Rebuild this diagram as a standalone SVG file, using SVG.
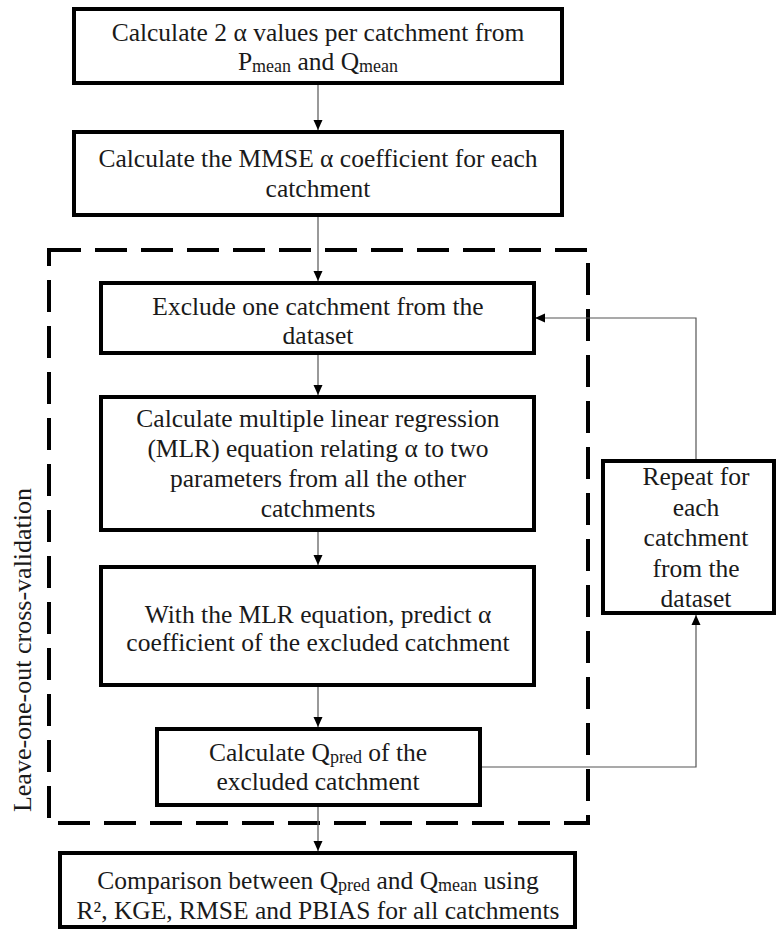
<svg xmlns="http://www.w3.org/2000/svg" width="778" height="931" viewBox="0 0 778 931">
<style>
.box{fill:#fff;stroke:#000;stroke-width:4}
.t{font-family:"Liberation Serif","Times New Roman",serif;font-size:25.5px;fill:#1a1a1a;text-anchor:middle}
.s{font-size:18px}
.c{fill:none;stroke:#555;stroke-width:1.2}
.dash{fill:none;stroke:#000;stroke-width:4;stroke-dasharray:32 14}
</style>
<defs>
<marker id="ah" markerUnits="userSpaceOnUse" markerWidth="10" markerHeight="10" viewBox="0 0 10 10" refX="10" refY="5" orient="auto">
<path d="M0,0.5 L10,5 L0,9.5 z" fill="#000"/>
</marker>
</defs>
<rect x="0" y="0" width="778" height="931" fill="#fff"/>
<g id="cv-frame">
<path class="dash" d="M49,250 H588 V823 H49 Z"/>
<text class="t" style="font-size:26px" transform="translate(31,650) rotate(-90)">Leave-one-out cross-validation</text>
</g>
<g id="connectors">
<path class="c" d="M318,85 V130" marker-end="url(#ah)"/>
<path class="c" d="M318,217 V281" marker-end="url(#ah)"/>
<path class="c" d="M318,355 V395" marker-end="url(#ah)"/>
<path class="c" d="M318,532 V565" marker-end="url(#ah)"/>
<path class="c" d="M318,687 V727" marker-end="url(#ah)"/>
<path class="c" d="M318,807 V851" marker-end="url(#ah)"/>
<path class="c" d="M482,767 H696 V615" marker-end="url(#ah)"/>
<path class="c" d="M696,459 V318 H535" marker-end="url(#ah)"/>
</g>
<g id="n1">
<rect class="box" x="74" y="9" width="488" height="74"/>
<text class="t" x="318" y="41">Calculate 2 α values per catchment from</text>
<text class="t" x="318" y="70">P<tspan class="s" dy="2">mean</tspan><tspan dy="-2"> and Q</tspan><tspan class="s" dy="2">mean</tspan></text>
</g>
<g id="n2">
<rect class="box" x="74" y="132" width="488" height="83"/>
<text class="t" x="318" y="167">Calculate the MMSE α coefficient for each</text>
<text class="t" x="318" y="197">catchment</text>
</g>
<g id="n3">
<rect class="box" x="101" y="283" width="433" height="70"/>
<text class="t" x="318" y="315">Exclude one catchment from the</text>
<text class="t" x="318" y="344">dataset</text>
</g>
<g id="n4">
<rect class="box" x="101" y="397" width="433" height="133"/>
<text class="t" x="318" y="427">Calculate multiple linear regression</text>
<text class="t" x="318" y="457">(MLR) equation relating α to two</text>
<text class="t" x="318" y="487">parameters from all the other</text>
<text class="t" x="318" y="517">catchments</text>
</g>
<g id="n5">
<rect class="box" x="101" y="567" width="433" height="118"/>
<text class="t" x="318" y="623">With the MLR equation, predict α</text>
<text class="t" x="318" y="651">coefficient of the excluded catchment</text>
</g>
<g id="n6">
<rect class="box" x="157" y="729" width="323" height="76"/>
<text class="t" x="318" y="761">Calculate Q<tspan class="s" dy="2">pred</tspan><tspan dy="-2"> of the</tspan></text>
<text class="t" x="318" y="790">excluded catchment</text>
</g>
<g id="n7">
<rect class="box" x="60" y="853" width="515" height="74"/>
<text class="t" x="318" y="889">Comparison between Q<tspan class="s" dy="2">pred</tspan><tspan dy="-2"> and Q</tspan><tspan class="s" dy="2">mean</tspan><tspan dy="-2"> using</tspan></text>
<text class="t" x="318" y="919">R², KGE, RMSE and PBIAS for all catchments</text>
</g>
<g id="n8">
<rect class="box" x="603" y="461" width="171" height="152"/>
<text class="t" x="696" y="485">Repeat for</text>
<text class="t" x="696" y="516">each</text>
<text class="t" x="696" y="546">catchment</text>
<text class="t" x="696" y="577">from the</text>
<text class="t" x="696" y="607">dataset</text>
</g>
</svg>
